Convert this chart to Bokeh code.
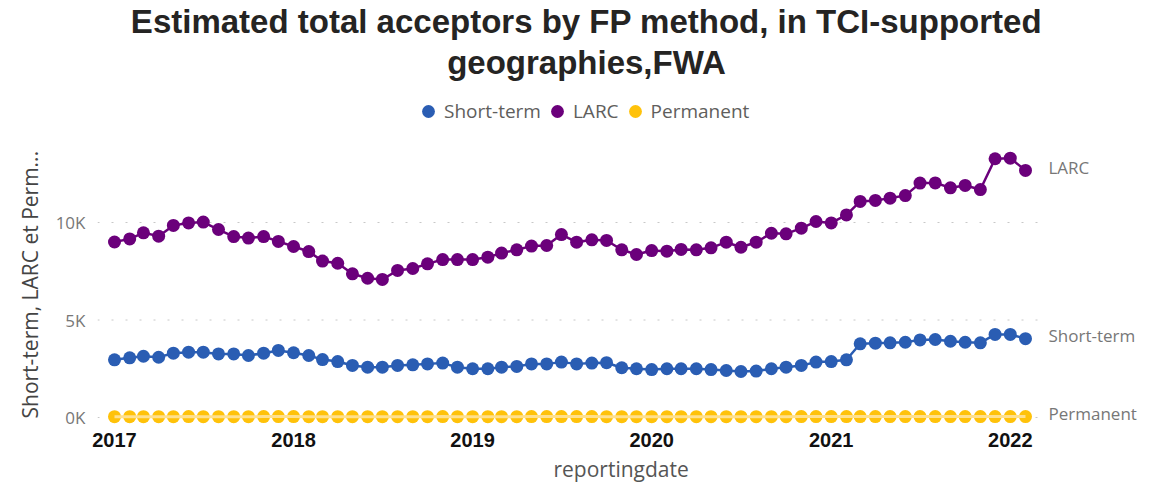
import pandas as pd
from datetime import datetime, timedelta
from bokeh.plotting import figure
from bokeh.models import (Range1d, FixedTicker, Label, Legend, LegendItem,
                          DatetimeTickFormatter, Title)
from bokeh.embed import file_html
from bokeh.resources import INLINE

# ---------------- data ----------------
months = pd.date_range("2017-01-01", periods=62, freq="MS")

short_term = [2960, 3060, 3140, 3090, 3300, 3350, 3350, 3260, 3260, 3180, 3300,
              3440, 3320, 3180, 2970, 2870, 2670, 2580, 2580, 2670, 2700,
              2750, 2790, 2580, 2500, 2500, 2580, 2620, 2750, 2750, 2840,
              2750, 2790, 2810, 2550, 2500, 2460, 2500, 2500, 2500, 2460,
              2410, 2360, 2380, 2500, 2580, 2670, 2840, 2870, 2960, 3780,
              3810, 3830, 3860, 3980, 4000, 3910, 3860, 3830, 4260, 4260, 4040]

larc = [9000, 9160, 9470, 9300, 9850, 9980, 10020, 9640, 9280, 9200, 9280,
        9030, 8770, 8510, 8020, 7910, 7370, 7140, 7080, 7540, 7640,
        7880, 8100, 8100, 8100, 8220, 8430, 8600, 8790, 8820, 9380,
        8990, 9110, 9080, 8600, 8360, 8560, 8530, 8620, 8600, 8700,
        8990, 8730, 8990, 9450, 9420, 9710, 10050, 9980, 10390, 11080,
        11130, 11250, 11380, 12020, 12030, 11780, 11900, 11690, 13270, 13300, 12670]

permanent = [40, 42, 41, 43, 44, 45, 44, 43, 42, 44, 45,
             46, 45, 44, 43, 42, 41, 40, 41, 42, 43,
             44, 45, 44, 43, 42, 43, 44, 45, 46, 47,
             46, 45, 44, 43, 42, 41, 40, 41, 42, 43,
             42, 41, 42, 43, 44, 45, 46, 47, 48, 49,
             48, 47, 46, 47, 48, 47, 46, 45, 46, 47, 46]

series_names = ["Short-term", "LARC", "Permanent"]
series_colors = ["#2A5DB3", "#6B007B", "#FFC20A"]
permanent_line_color = "#FFE08C"

year_ticks = [datetime(y, 1, 1) for y in (2017, 2018, 2019, 2020, 2021, 2022)]
y_ticks = [0, 5000, 10000]
y_tick_labels = ["0K", "5K", "10K"]

title_line1 = "Estimated total acceptors by FP method, in TCI-supported"
title_line2 = "geographies,FWA"
y_title = "Short-term, LARC et Perm..."
x_title = "reportingdate"

# ---------------- figure ----------------
W, H = 1164, 486
FL, FR, FT, FB = 97, 1164, 0, 425            # frame edges (px)
px_per_day = 911 / 1857.0
px_per_unit = 0.0195
x_start = months[0] - timedelta(days=(114 - FL) / px_per_day)
x_end = months[-1] + timedelta(days=(FR - 1025) / px_per_day)
grid_end = months[-1] + timedelta(days=(1042 - 1025) / px_per_day)
y_start = -(FB - 417) / px_per_unit
y_end = (417 - FT) / px_per_unit

p = figure(width=W, height=H, output_backend="svg", toolbar_location=None,
           x_axis_type="datetime",
           x_range=Range1d(x_start, x_end),
           y_range=Range1d(y_start, y_end),
           min_border_left=FL, min_border_right=W - FR,
           min_border_top=FT, min_border_bottom=H - FB)
p.outline_line_color = None
p.background_fill_color = "white"
p.border_fill_color = "white"

# grid (dotted horizontal lines, stopping before the end labels)
p.xgrid.grid_line_color = None
p.ygrid.grid_line_color = None
p.segment(x0=[x_start] * len(y_ticks), y0=y_ticks,
          x1=[grid_end] * len(y_ticks), y1=y_ticks,
          line_color="#C8C8C8", line_dash="2 12", line_width=1)

# y axis
ya = p.yaxis[0]
ya.ticker = FixedTicker(ticks=y_ticks)
ya.major_label_overrides = {t: l for t, l in zip(y_ticks, y_tick_labels)}
ya.axis_line_color = None
ya.major_tick_line_color = None
ya.minor_tick_line_color = None
ya.major_tick_out = 0
ya.major_tick_in = 0
ya.major_label_standoff = 12
ya.major_label_text_font = "Open Sans"
ya.major_label_text_font_size = "17px"
ya.major_label_text_color = "#777777"

# y title in the left panel, placed along the lower part like the reference
p.add_layout(Title(text=y_title, align="left", offset=7, vertical_align="bottom",
                   standoff=17, text_font="Open Sans", text_font_size="21px",
                   text_font_style="normal", text_color="#444444"), "left")

# x axis
xa = p.xaxis[0]
xa.ticker = FixedTicker(ticks=[pd.Timestamp(d).value / 1e6 for d in year_ticks])
xa.formatter = DatetimeTickFormatter(years="%Y", months="%Y", days="%Y",
                                     hours="%Y", minutes="%Y", seconds="%Y",
                                     milliseconds="%Y", microseconds="%Y",
                                     hourmin="%Y", minsec="%Y")
xa.axis_line_color = None
xa.major_tick_line_color = None
xa.minor_tick_line_color = None
xa.major_tick_out = 0
xa.major_tick_in = 0
xa.major_label_standoff = 7
xa.major_label_text_font = "Liberation Sans"
xa.major_label_text_font_style = "bold"
xa.major_label_text_font_size = "20px"
xa.major_label_text_color = "#111111"

# x title below the axis
p.add_layout(Title(text=x_title, align="left", offset=456, vertical_align="bottom",
                   standoff=6, text_font="Open Sans", text_font_size="21px",
                   text_font_style="normal", text_color="#555555"), "below")

# series
all_vals = [short_term, larc, permanent]
scatter_renderers = []
for name, vals, col in zip(series_names, all_vals, series_colors):
    if name == "Permanent":
        s = p.scatter(months, vals, size=13, color=col, line_color=None)
        p.line(months, vals, line_color=permanent_line_color, line_width=3)
    else:
        p.line(months, vals, line_color=col, line_width=2.5)
        s = p.scatter(months, vals, size=13, color=col, line_color=None)
    scatter_renderers.append(s)
    # end label
    p.add_layout(Label(x=months[-1], y=vals[-1], text=name, x_offset=23,
                       y_offset=3, text_baseline="middle", text_align="left",
                       text_font="Open Sans", text_font_size="17px",
                       text_color="#777777"))

# legend (inside the frame, above the data)
legend = Legend(items=[LegendItem(label=n, renderers=[r])
                       for n, r in zip(series_names, scatter_renderers)],
                orientation="horizontal", location=(315, 298),
                glyph_width=32, glyph_height=32, label_standoff=0,
                spacing=0, padding=0, margin=0,
                border_line_alpha=0, background_fill_alpha=0,
                label_text_font="Open Sans", label_text_font_size="19px",
                label_text_color="#605E5C")
p.add_layout(legend)

# title (two centred lines, inside the frame area at the top)
for txt, yb in ((title_line1, 404), (title_line2, 363)):
    p.add_layout(Label(x=586 - FL, y=yb, x_units="screen", y_units="screen",
                       text=txt, text_align="center", text_baseline="alphabetic",
                       text_font="Liberation Sans", text_font_style="bold",
                       text_font_size="33px", text_color="#252423"))

open("out.html", "w").write(file_html(p, INLINE))
